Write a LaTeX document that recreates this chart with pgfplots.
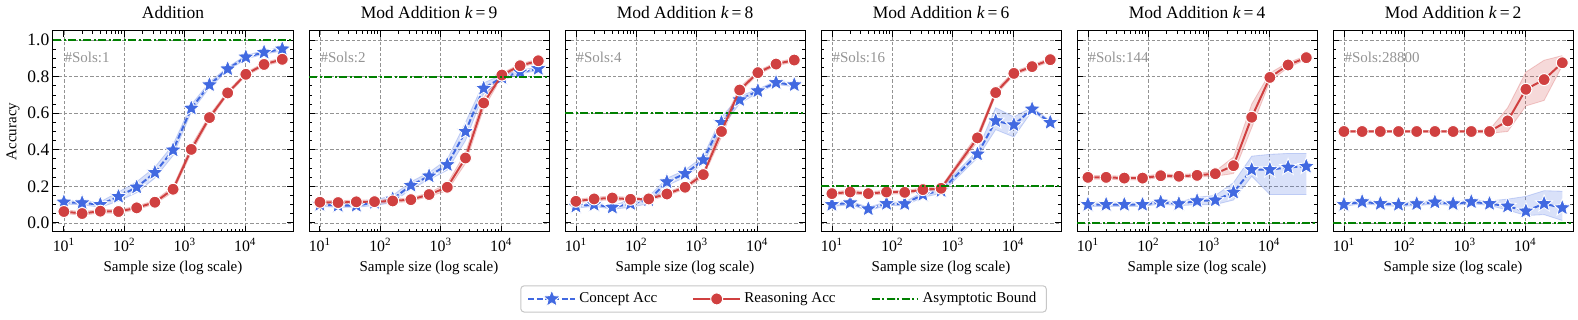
\documentclass[border=0pt]{standalone}
\usepackage{fontspec}
\setmainfont{Liberation Serif}
\usepackage{pgfplots}
\usepackage{pgfplotstable}
\pgfplotsset{compat=1.18}
\usepgfplotslibrary{groupplots,fillbetween}

\definecolor{cblue}{RGB}{65,105,225}
\definecolor{cred}{RGB}{208,64,64}
\definecolor{cgreen}{RGB}{0,128,0}

% filled five-pointed star
\pgfdeclareplotmark{fstar}{%
  \pgfpathmoveto{\pgfpointpolar{90}{\pgfplotmarksize}}%
  \pgfpathlineto{\pgfpointpolar{126}{0.44\pgfplotmarksize}}%
  \pgfpathlineto{\pgfpointpolar{162}{\pgfplotmarksize}}%
  \pgfpathlineto{\pgfpointpolar{198}{0.44\pgfplotmarksize}}%
  \pgfpathlineto{\pgfpointpolar{234}{\pgfplotmarksize}}%
  \pgfpathlineto{\pgfpointpolar{270}{0.44\pgfplotmarksize}}%
  \pgfpathlineto{\pgfpointpolar{306}{\pgfplotmarksize}}%
  \pgfpathlineto{\pgfpointpolar{342}{0.44\pgfplotmarksize}}%
  \pgfpathlineto{\pgfpointpolar{18}{\pgfplotmarksize}}%
  \pgfpathlineto{\pgfpointpolar{54}{0.44\pgfplotmarksize}}%
  \pgfpathclose
  \pgfusepathqfillstroke
}

% x: sample size; c/cl/cu: concept acc and band; r/rl/ru: reasoning acc and band
\pgfplotstableread{
x c cl cu r rl ru
10 .113 .103 .123 .062 .052 .072
20 .109 .099 .119 .051 .041 .061
40 .100 .085 .115 .064 .054 .074
80 .144 .119 .169 .062 .052 .072
160 .195 .165 .225 .082 .072 .092
320 .275 .245 .305 .113 .103 .123
640 .398 .368 .428 .184 .169 .199
1280 .627 .607 .647 .402 .382 .422
2560 .755 .740 .770 .576 .561 .591
5120 .842 .832 .852 .711 .701 .721
10240 .907 .897 .917 .813 .803 .823
20480 .933 .923 .943 .867 .857 .877
40960 .951 .941 .961 .895 .885 .905
}\tA
\pgfplotstableread{
x c cl cu r rl ru
10 .100 .090 .110 .113 .103 .123
20 .095 .085 .105 .111 .101 .121
40 .095 .085 .105 .115 .105 .125
80 .110 .095 .125 .116 .106 .126
160 .130 .110 .150 .120 .110 .130
320 .205 .185 .225 .127 .117 .137
640 .256 .236 .276 .155 .145 .165
1280 .318 .288 .348 .195 .175 .215
2560 .500 .450 .550 .355 .325 .385
5120 .736 .706 .766 .656 .626 .686
10240 .795 .780 .810 .809 .799 .819
20480 .825 .815 .835 .860 .850 .870
40960 .844 .834 .854 .887 .877 .897
}\tB
\pgfplotstableread{
x c cl cu r rl ru
10 .091 .081 .101 .118 .108 .128
20 .100 .090 .110 .131 .121 .141
40 .085 .075 .095 .136 .126 .146
80 .105 .085 .125 .129 .119 .139
160 .125 .105 .145 .131 .121 .141
320 .224 .204 .244 .158 .148 .168
640 .269 .249 .289 .195 .185 .205
1280 .344 .324 .364 .264 .249 .279
2560 .549 .519 .579 .500 .470 .530
5120 .673 .653 .693 .727 .712 .742
10240 .722 .712 .732 .822 .812 .832
20480 .767 .757 .777 .869 .859 .879
40960 .755 .745 .765 .891 .881 .901
}\tC
\pgfplotstableread{
x c cl cu r rl ru
10 .100 .090 .110 .160 .150 .170
20 .109 .099 .119 .169 .159 .179
40 .076 .066 .086 .160 .150 .170
80 .105 .095 .115 .169 .159 .179
160 .104 .094 .114 .167 .157 .177
320 .155 .140 .170 .182 .172 .192
640 .176 .161 .191 .189 .179 .199
2560 .376 .356 .396 .465 .445 .485
5120 .558 .510 .630 .713 .698 .728
10240 .536 .470 .580 .818 .808 .828
20480 .622 .612 .632 .855 .845 .865
40960 .549 .539 .559 .893 .883 .903
}\tD
\pgfplotstableread{
x c cl cu r rl ru
10 .100 .090 .110 .249 .239 .259
20 .100 .090 .110 .249 .239 .259
40 .100 .090 .110 .245 .235 .255
80 .100 .090 .110 .245 .235 .255
160 .113 .103 .123 .258 .248 .268
320 .104 .094 .114 .255 .245 .265
640 .120 .100 .140 .260 .250 .270
1280 .124 .100 .150 .269 .255 .283
2560 .167 .125 .220 .313 .270 .360
5120 .291 .255 .365 .578 .520 .650
10240 .291 .155 .375 .796 .775 .820
20480 .304 .155 .380 .864 .850 .878
40960 .309 .155 .380 .904 .894 .914
}\tE
\pgfplotstableread{
x c cl cu r rl ru
10 .100 .090 .110 .500 .495 .505
20 .115 .105 .125 .500 .495 .505
40 .105 .095 .115 .500 .495 .505
80 .100 .090 .110 .500 .495 .505
160 .104 .094 .114 .500 .495 .505
320 .113 .103 .123 .500 .495 .505
640 .104 .094 .114 .500 .495 .505
1280 .115 .105 .125 .500 .495 .505
2560 .105 .095 .120 .500 .490 .510
5120 .091 .070 .130 .558 .500 .630
10240 .064 .040 .145 .731 .640 .825
20480 .105 .045 .176 .784 .670 .890
40960 .082 .013 .173 .876 .860 .915
}\tF

\newcommand{\panel}[3]{%
  \addplot[name path=cu, cblue, draw opacity=0.25, line width=0.5pt, forget plot] table[x=x,y=cu]{#1};
  \addplot[name path=cl, cblue, draw opacity=0.25, line width=0.5pt, forget plot] table[x=x,y=cl]{#1};
  \addplot[fill=cblue, fill opacity=0.2, draw=none, forget plot] fill between[of=cu and cl];
  \addplot[name path=ru, cred, draw opacity=0.25, line width=0.5pt, forget plot] table[x=x,y=ru]{#1};
  \addplot[name path=rl, cred, draw opacity=0.25, line width=0.5pt, forget plot] table[x=x,y=rl]{#1};
  \addplot[fill=cred, fill opacity=0.2, draw=none, forget plot] fill between[of=ru and rl];
  \addplot[concept] table[x=x,y=c]{#1};
  \addplot[reason] table[x=x,y=r]{#1};
  \addplot[bound] coordinates {(6.6,#2) (61700,#2)};
  \node[anchor=base west, inner sep=0pt, text=black!42, font=\fontsize{9}{11}\selectfont]
    at (rel axis cs:0.047,0.844) {\#Sols:#3};
}

\begin{document}
\begin{tikzpicture}
\begin{groupplot}[
  group style={group size=6 by 1, horizontal sep=9.6pt,
    yticklabels at=edge left, ylabels at=edge left},
  scale only axis, width=144pt, height=120.6pt,
  xmode=log, xmin=6.6, xmax=61700,
  ymin=-0.05, ymax=1.05,
  xtick={10,100,1000,10000},
  xticklabels={10\textsuperscript{1},10\textsuperscript{2},10\textsuperscript{3},10\textsuperscript{4}},
  ytick={0,0.2,0.4,0.6,0.8,1},
  minor y tick num=3,
  yticklabel style={/pgf/number format/fixed, /pgf/number format/fixed zerofill,
    /pgf/number format/precision=1, /pgf/number format/assume math mode=true},
  tick align=inside, tick pos=both,
  major tick length=3.5pt, minor tick length=2pt,
  every tick/.style={black, line width=0.5pt},
  axis line style={line width=0.6pt},
  grid=major,
  major grid style={gray!85, line width=0.4pt, dash pattern=on 2pt off 1.2pt},
  every axis title shift=0pt,
  title style={at={(0.5,1)}, anchor=base, yshift=7.2pt, font=\fontsize{10.5}{12}\selectfont},
  xlabel={Sample size (log scale)},
  xlabel style={at={(0.5,0)}, anchor=base, yshift=-24pt, font=\fontsize{9}{11}\selectfont},
  ylabel style={at={(-0.1667,0.5)}, anchor=center, font=\fontsize{9}{11}\selectfont},
  xticklabel style={anchor=base, yshift=-12pt, font=\fontsize{9.5}{11}\selectfont},
  yticklabel style={inner sep=0pt, xshift=-2pt, font=\fontsize{10.5}{12}\selectfont},
  clip mode=individual,
  concept/.style={cblue, line width=1.2pt, dash pattern=on 3.5pt off 1.5pt,
    mark=fstar, mark size=5.4pt, mark options={solid, fill=cblue, draw=white, line width=0.5pt}},
  reason/.style={cred, line width=1.2pt, solid,
    mark=*, mark size=3.6pt, mark options={solid, fill=cred, draw=white, line width=0.6pt}},
  bound/.style={cgreen, line width=1.2pt, dash pattern=on 5pt off 1.5pt on 1pt off 1.5pt},
  legend image code/.code={\draw[mark repeat=2, mark phase=2, #1] plot coordinates {(0pt,0pt) (14pt,0pt) (28pt,0pt)};},
]
\nextgroupplot[title={Addition}, ylabel={Accuracy},
  legend columns=3,
  legend style={at={(rel axis cs:3.044,-0.333)}, anchor=center, draw=black!22,
    line width=0.6pt, rounded corners=2pt, font=\fontsize{9}{11}\selectfont,
    inner xsep=4pt, inner ysep=2pt,
    /tikz/every even column/.append style={column sep=19pt}}]
\panel{\tA}{1}{1}
\coordinate (bl) at (rel axis cs:0,0);
\legend{Concept Acc, Reasoning Acc, Asymptotic Bound}
\nextgroupplot[title={Mod Addition \textit{k}\,=\,9}]
\panel{\tB}{0.8}{2}
\nextgroupplot[title={Mod Addition \textit{k}\,=\,8}]
\panel{\tC}{0.6}{4}
\nextgroupplot[title={Mod Addition \textit{k}\,=\,6}]
\panel{\tD}{0.2}{16}
\nextgroupplot[title={Mod Addition \textit{k}\,=\,4}]
\panel{\tE}{0}{144}
\nextgroupplot[title={Mod Addition \textit{k}\,=\,2}]
\panel{\tF}{0}{28800}
\end{groupplot}
\path (bl) ++(-31.8pt,-52.8pt) rectangle ++(946.8pt,192pt);
\end{tikzpicture}
\end{document}
